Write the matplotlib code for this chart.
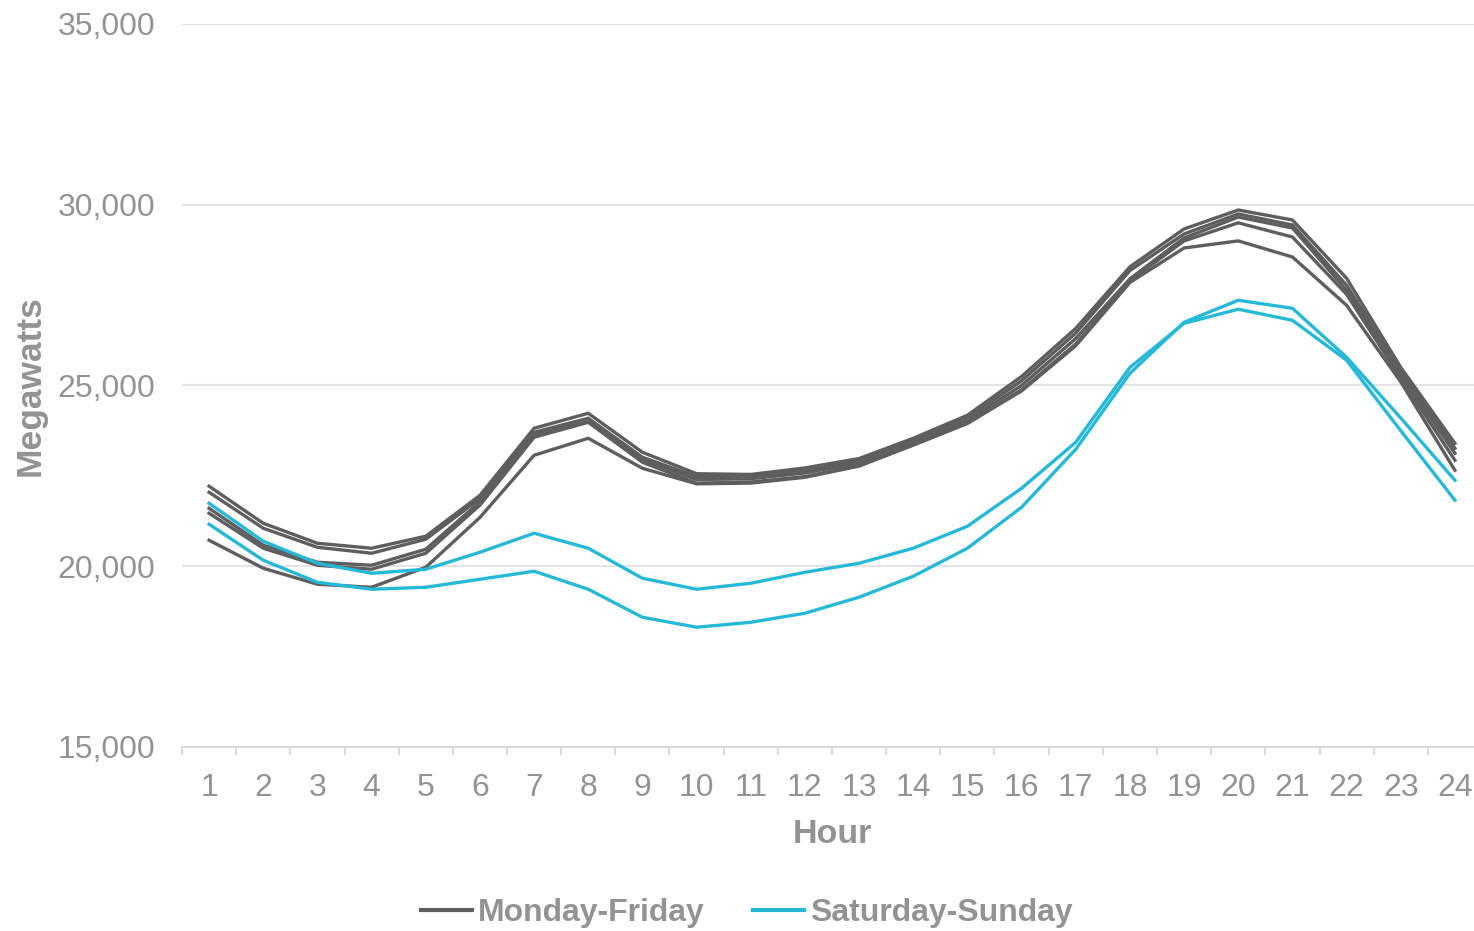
import matplotlib
matplotlib.use("Agg")
import matplotlib.pyplot as plt
from matplotlib.ticker import FuncFormatter, FixedLocator

hours = list(range(1, 25))

# Weekday (Monday-Friday) hourly load, MW
weekday_a = [22213, 21189, 20636, 20498, 20830, 21960, 23817, 24232, 23153, 22560, 22540, 22720,
             22980, 23540, 24177, 25250, 26580, 28283, 29330, 29855, 29579, 27966, 25500, 23400]
weekday_b = [22047, 21051, 20525, 20360, 20747, 21870, 23706, 24093, 23015, 22480, 22480, 22650,
             22920, 23490, 24100, 25130, 26450, 28180, 29191, 29745, 29440, 27772, 25400, 23264]
weekday_c = [21604, 20581, 20111, 20028, 20470, 21780, 23650, 24000, 22950, 22400, 22420, 22580,
             22860, 23420, 24030, 25000, 26300, 27950, 29081, 29660, 29357, 27634, 25300, 23125]
weekday_d = [21466, 20498, 20028, 19917, 20360, 21690, 23568, 23983, 22876, 22300, 22330, 22480,
             22790, 23360, 23960, 24880, 26150, 27900, 29000, 29500, 29108, 27523, 25200, 22932]
weekday_e = [20719, 19945, 19502, 19419, 19972, 21350, 23070, 23540, 22710, 22280, 22300, 22460,
             22770, 23350, 23950, 24850, 26100, 27850, 28804, 29000, 28555, 27219, 25100, 22655]

# Weekend (Saturday-Sunday) hourly load, MW
saturday = [21743, 20692, 20083, 19806, 19917, 20387, 20913, 20498, 19668, 19364, 19530, 19834,
            20083, 20498, 21106, 22157, 23430, 25500, 26720, 27110, 26804, 25700, 23750, 21826]
sunday = [21162, 20166, 19557, 19364, 19419, 19640, 19862, 19364, 18589, 18313, 18450, 18700,
          19143, 19723, 20498, 21632, 23236, 25338, 26750, 27358, 27136, 25781, 24100, 22379]

weekday_series = [weekday_a, weekday_b, weekday_c, weekday_d, weekday_e]
weekend_series = [saturday, sunday]

y_ticks = [15000, 20000, 25000, 30000, 35000]
legend_labels = ["Monday-Friday", "Saturday-Sunday"]

GREY_LINE = "#5e5e60"
BLUE_LINE = "#25b9d7"
TEXT = "#939396"
GRID = "#e3e3e3"

plt.rcParams["font.family"] = ["Liberation Sans", "DejaVu Sans"]

fig = plt.figure(figsize=(14.74, 9.31), dpi=100)
ax = fig.add_axes([182 / 1474, 1 - 747 / 931, 1300 / 1474, (747 - 24) / 931])

for i, s in enumerate(weekday_series):
    ax.plot(hours, s, color=GREY_LINE, lw=2.4, solid_joinstyle="miter", zorder=3,
            label=legend_labels[0] if i == 0 else "_nolegend_")
for i, s in enumerate(weekend_series):
    ax.plot(hours, s, color=BLUE_LINE, lw=2.4, solid_joinstyle="miter", zorder=4,
            label=legend_labels[1] if i == 0 else "_nolegend_")

ax.set_xlim(0.5, 24.5)
ax.set_ylim(15000, 35000)
ax.set_yticks(y_ticks)
ax.yaxis.set_major_formatter(FuncFormatter(lambda v, p: f"{int(v):,}"))
ax.set_xticks(hours)
ax.xaxis.set_minor_locator(FixedLocator([h - 0.5 for h in hours] + [24.5]))

ax.grid(axis="y", color=GRID, lw=1.5, zorder=0)
for side in ["top", "right", "left"]:
    ax.spines[side].set_visible(False)
ax.spines["bottom"].set_color("#d9d9d9")
ax.spines["bottom"].set_linewidth(1.5)

ax.tick_params(axis="x", which="major", length=0, pad=19, labelsize=23, labelcolor=TEXT)
ax.tick_params(axis="x", which="minor", length=6, width=1.5, color="#d9d9d9")
ax.tick_params(axis="y", which="major", length=0, pad=19, labelsize=23, labelcolor=TEXT)

ax.set_xlabel("Hour", fontsize=24.5, fontweight="bold", color=TEXT, labelpad=11)
ax.set_ylabel("Megawatts", fontsize=25.5, fontweight="bold", color=TEXT, labelpad=8)

leg = fig.legend(loc="center", bbox_to_anchor=(747 / 1474, 1 - 913 / 931), ncol=2,
                 frameon=False, fontsize=23, handlelength=1.6, handletextpad=0.2,
                 columnspacing=1.5)
for t in leg.get_texts():
    t.set_color(TEXT)
    t.set_fontweight("bold")
for h in leg.legend_handles:
    h.set_linewidth(3)

fig.savefig("out.png", dpi=100)
